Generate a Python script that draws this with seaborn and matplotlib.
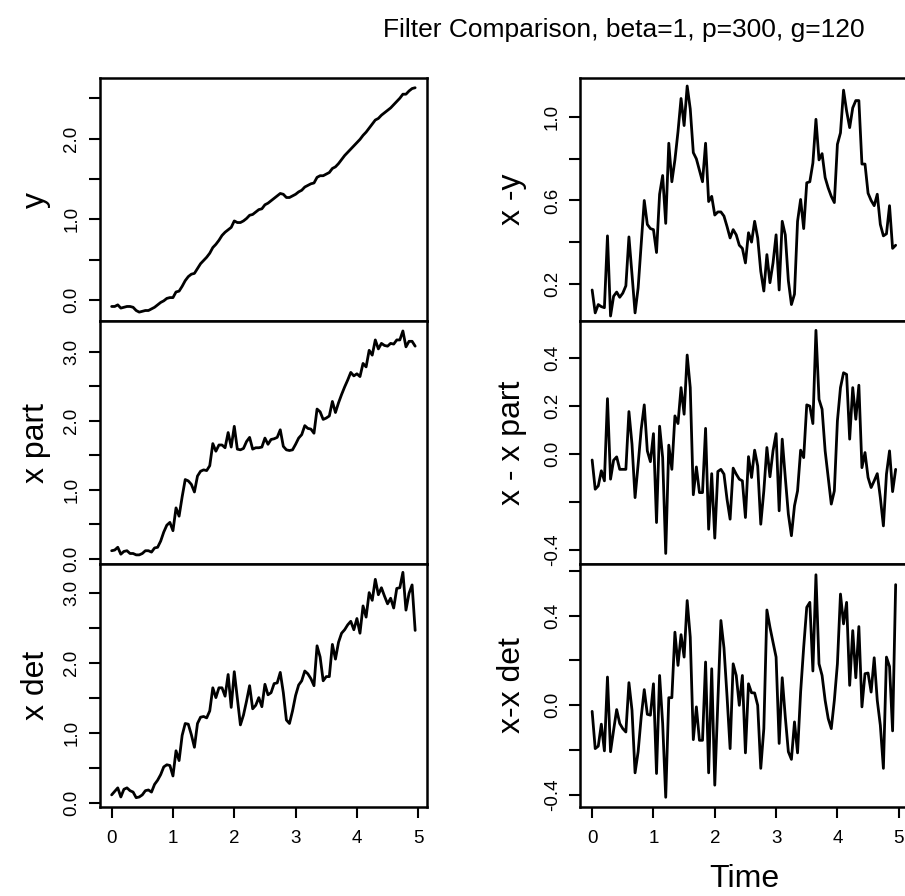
import numpy as np
import pandas as pd
import matplotlib
matplotlib.use("Agg")
import matplotlib.pyplot as plt
import seaborn as sns

# ---------------- data ----------------
time = np.round(np.arange(100) * 0.05, 2)

y_obs = [-0.08, -0.08, -0.06, -0.10, -0.09, -0.08, -0.08, -0.09, -0.13, -0.15,
         -0.14, -0.13, -0.13, -0.11, -0.09, -0.06, -0.03, -0.01, 0.02, 0.03,
         0.03, 0.10, 0.11, 0.17, 0.24, 0.29, 0.32, 0.33, 0.39, 0.45,
         0.49, 0.53, 0.58, 0.65, 0.69, 0.74, 0.80, 0.84, 0.87, 0.90,
         0.98, 0.96, 0.96, 0.98, 1.01, 1.05, 1.06, 1.09, 1.12, 1.13,
         1.18, 1.20, 1.23, 1.26, 1.29, 1.32, 1.31, 1.27, 1.27, 1.29,
         1.31, 1.34, 1.36, 1.40, 1.42, 1.44, 1.45, 1.52, 1.54, 1.54,
         1.56, 1.58, 1.63, 1.65, 1.69, 1.74, 1.79, 1.83, 1.87, 1.91,
         1.95, 1.99, 2.04, 2.08, 2.13, 2.18, 2.23, 2.25, 2.29, 2.32,
         2.35, 2.38, 2.42, 2.46, 2.50, 2.55, 2.55, 2.59, 2.62, 2.63]

x_part = [0.12, 0.13, 0.17, 0.07, 0.11, 0.12, 0.08, 0.08, 0.06, 0.06,
          0.08, 0.12, 0.12, 0.10, 0.16, 0.17, 0.26, 0.39, 0.49, 0.53,
          0.41, 0.74, 0.62, 0.90, 1.15, 1.13, 1.08, 0.97, 1.20, 1.27,
          1.29, 1.28, 1.35, 1.67, 1.56, 1.65, 1.65, 1.61, 1.83, 1.62,
          1.92, 1.59, 1.58, 1.60, 1.70, 1.76, 1.59, 1.61, 1.61, 1.62,
          1.75, 1.66, 1.73, 1.74, 1.76, 1.87, 1.63, 1.58, 1.57, 1.58,
          1.66, 1.75, 1.80, 1.93, 1.89, 1.88, 1.82, 2.17, 2.13, 2.02,
          2.04, 2.07, 2.28, 2.12, 2.26, 2.38, 2.49, 2.59, 2.70, 2.65,
          2.68, 2.64, 2.83, 2.78, 3.02, 2.95, 3.17, 3.04, 3.12, 3.09,
          3.08, 3.12, 3.11, 3.17, 3.17, 3.30, 3.07, 3.15, 3.15, 3.08]

x_det = [0.12, 0.17, 0.22, 0.09, 0.20, 0.22, 0.18, 0.16, 0.08, 0.09,
         0.12, 0.18, 0.19, 0.16, 0.27, 0.33, 0.41, 0.52, 0.55, 0.54,
         0.39, 0.75, 0.61, 0.97, 1.14, 1.13, 0.98, 0.80, 1.14, 1.23,
         1.24, 1.22, 1.32, 1.65, 1.51, 1.65, 1.65, 1.53, 1.84, 1.37,
         1.88, 1.50, 1.12, 1.26, 1.46, 1.68, 1.35, 1.40, 1.51, 1.38,
         1.70, 1.55, 1.58, 1.71, 1.72, 1.87, 1.58, 1.19, 1.14, 1.32,
         1.54, 1.69, 1.75, 1.89, 1.85, 1.78, 1.68, 2.25, 2.09, 1.75,
         1.81, 1.81, 2.27, 2.06, 2.30, 2.43, 2.48, 2.55, 2.60, 2.48,
         2.64, 2.43, 2.82, 2.66, 3.01, 2.90, 3.20, 2.98, 3.08, 2.96,
         2.85, 2.93, 2.79, 3.07, 3.08, 3.30, 2.76, 3.00, 3.12, 2.47]

x_minus_y = [0.17, 0.06, 0.10, 0.09, 0.085, 0.43, 0.045, 0.14, 0.16, 0.135,
             0.155, 0.19, 0.425, 0.245, 0.06, 0.18, 0.39, 0.60, 0.485, 0.465,
             0.46, 0.35, 0.63, 0.72, 0.49, 0.875, 0.69, 0.795, 0.93, 1.09,
             0.96, 1.15, 1.04, 0.83, 0.80, 0.745, 0.69, 0.875, 0.595, 0.62,
             0.53, 0.545, 0.545, 0.525, 0.475, 0.42, 0.46, 0.435, 0.385, 0.37,
             0.30, 0.445, 0.40, 0.50, 0.42, 0.26, 0.165, 0.34, 0.205, 0.30,
             0.435, 0.17, 0.50, 0.435, 0.215, 0.10, 0.15, 0.50, 0.605, 0.465,
             0.685, 0.69, 0.78, 0.99, 0.795, 0.825, 0.71, 0.66, 0.62, 0.59,
             0.87, 0.925, 1.13, 1.03, 0.95, 1.045, 1.08, 1.08, 0.775, 0.775,
             0.635, 0.60, 0.575, 0.63, 0.485, 0.43, 0.44, 0.575, 0.37, 0.385]

x_minus_xpart = [-0.024, -0.146, -0.132, -0.069, -0.111, 0.232, -0.104, -0.025, -0.011, -0.063,
                 -0.063, -0.063, 0.178, 0.042, -0.181, -0.042, 0.104, 0.206, 0.014, -0.031,
                 0.086, -0.285, 0.117, -0.014, -0.414, 0.038, -0.063, 0.160, 0.128, 0.278,
                 0.167, 0.414, 0.278, -0.169, -0.053, -0.160, -0.160, 0.108, -0.313, -0.081,
                 -0.350, -0.072, -0.063, -0.083, -0.188, -0.271, -0.058, -0.083, -0.104, -0.111,
                 -0.264, -0.010, -0.097, 0.017, -0.049, -0.292, -0.153, 0.028, -0.094, 0.014,
                 0.086, -0.236, 0.063, -0.097, -0.250, -0.340, -0.215, -0.153, 0.017, -0.014,
                 0.206, 0.201, 0.128, 0.517, 0.229, 0.188, 0.014, -0.097, -0.208, -0.153,
                 0.139, 0.278, 0.340, 0.333, 0.063, 0.278, 0.146, 0.288, -0.056, 0.007,
                 -0.097, -0.139, -0.111, -0.081, -0.181, -0.299, -0.083, 0.014, -0.156, -0.063]

x_minus_xdet = [-0.027, -0.193, -0.182, -0.084, -0.203, 0.126, -0.207, -0.111, -0.019, -0.081,
                -0.104, -0.119, 0.101, -0.022, -0.301, -0.207, -0.052, 0.070, -0.040, -0.044,
                0.096, -0.304, 0.133, -0.081, -0.410, 0.034, 0.034, 0.326, 0.178, 0.315,
                0.215, 0.467, 0.304, -0.153, -0.007, -0.156, -0.156, 0.193, -0.301, 0.163,
                -0.356, 0.015, 0.378, 0.256, 0.040, -0.193, 0.185, 0.133, 0.000, 0.133,
                -0.212, 0.096, 0.056, 0.055, 0.000, -0.281, -0.104, 0.425, 0.348, 0.281,
                0.215, -0.170, 0.123, -0.052, -0.207, -0.241, -0.074, -0.212, 0.059, 0.259,
                0.437, 0.459, 0.153, 0.582, 0.185, 0.133, 0.022, -0.059, -0.104, 0.022,
                0.185, 0.496, 0.363, 0.459, 0.089, 0.333, 0.123, 0.351, -0.007, 0.141,
                0.144, 0.059, 0.212, 0.022, -0.089, -0.281, 0.215, 0.173, -0.114, 0.538]

title = "Filter Comparison, beta=1, p=300, g=120"
x_ticks = [0, 1, 2, 3, 4, 5]

panels = [
    # (column, row, values, ylabel, ylim, ticks, labeled ticks)
    (0, 0, y_obs, "y", (-0.26, 2.747), [0, 0.5, 1, 1.5, 2, 2.5], {0: "0.0", 1: "1.0", 2: "2.0"}),
    (0, 1, x_part, "x part", (-0.072, 3.444), [0, 0.5, 1, 1.5, 2, 2.5, 3],
     {0: "0.0", 1: "1.0", 2: "2.0", 3: "3.0"}),
    (0, 2, x_det, "x det", (-0.049, 3.419), [0, 0.5, 1, 1.5, 2, 2.5, 3],
     {0: "0.0", 1: "1.0", 2: "2.0", 3: "3.0"}),
    (1, 0, x_minus_y, "x -y", (0.021, 1.187), [0.2, 0.4, 0.6, 0.8, 1.0],
     {0.2: "0.2", 0.6: "0.6", 1.0: "1.0"}),
    (1, 1, x_minus_xpart, "x - x part", (-0.458, 0.556), [-0.4, -0.2, 0.0, 0.2, 0.4],
     {-0.4: "-0.4", 0.0: "0.0", 0.2: "0.2", 0.4: "0.4"}),
    (1, 2, x_minus_xdet, "x-x det", (-0.452, 0.63), [-0.4, -0.2, 0.0, 0.2, 0.4, 0.6],
     {-0.4: "-0.4", 0.0: "0.0", 0.4: "0.4"}),
]

# ---------------- styling ----------------
sns.set_style("ticks")
plt.rcParams['font.family'] = ['Liberation Sans', 'DejaVu Sans']
plt.rcParams['text.color'] = 'black'
plt.rcParams['axes.labelcolor'] = 'black'
plt.rcParams['xtick.color'] = 'black'
plt.rcParams['ytick.color'] = 'black'
plt.rcParams['axes.edgecolor'] = 'black'

W, H = 905, 896
fig = plt.figure(figsize=(W / 100, H / 100), dpi=100)

col_x = [(99.5, 427.3), (580.0, 907.8)]
row_y = [(78.3, 321.0), (321.0, 564.0), (564.0, 806.7)]

TICK_FS = 13.5
LABEL_FS = 23

for col, row, vals, ylab, ylim, ticks, labmap in panels:
    x0, x1 = col_x[col]
    y0, y1 = row_y[row]
    ax = fig.add_axes([x0 / W, 1 - y1 / H, (x1 - x0) / W, (y1 - y0) / H])
    df = pd.DataFrame({"Time": time, "value": vals})
    sns.lineplot(data=df, x="Time", y="value", ax=ax, color="black",
                 linewidth=2.0, estimator=None)
    ax.set_xlim(-0.198, 5.148)
    ax.set_ylim(*ylim)
    for s in ax.spines.values():
        s.set_visible(True)
        s.set_linewidth(1.8)
        s.set_color("black")
    ax.set_yticks(ticks)
    ax.set_yticklabels([labmap.get(round(t, 1), "") for t in ticks],
                       rotation=90, va="center", color="black", fontsize=TICK_FS)
    ax.tick_params(axis="y", direction="out", length=7.7, width=1.5,
                   labelsize=TICK_FS, pad=6, color="black", labelcolor="black")
    ax.set_ylabel(ylab, fontsize=LABEL_FS, color="black")
    ax.yaxis.set_label_coords(-0.194 if col == 0 else -0.208, 0.5)
    ax.yaxis.label.set_va("center")
    if row == 2:
        ax.set_xticks(x_ticks)
        ax.set_xticklabels([str(v) for v in x_ticks], color="black", fontsize=TICK_FS)
        ax.tick_params(axis="x", direction="out", length=7.7, width=1.5,
                       labelsize=TICK_FS, pad=9, color="black", labelcolor="black")
        if col == 1:
            ax.set_xlabel("Time", fontsize=LABEL_FS, color="black")
            ax.xaxis.set_label_coords(0.5, -0.296)
            ax.xaxis.label.set_va("center")
        else:
            ax.set_xlabel("")
    else:
        ax.set_xticks([])
        ax.set_xlabel("")
    ax.grid(False)

fig.text(623.5 / W, 1 - 30 / H, title, ha="center", va="center", fontsize=19,
         color="black")

fig.savefig("out.png", dpi=100)
